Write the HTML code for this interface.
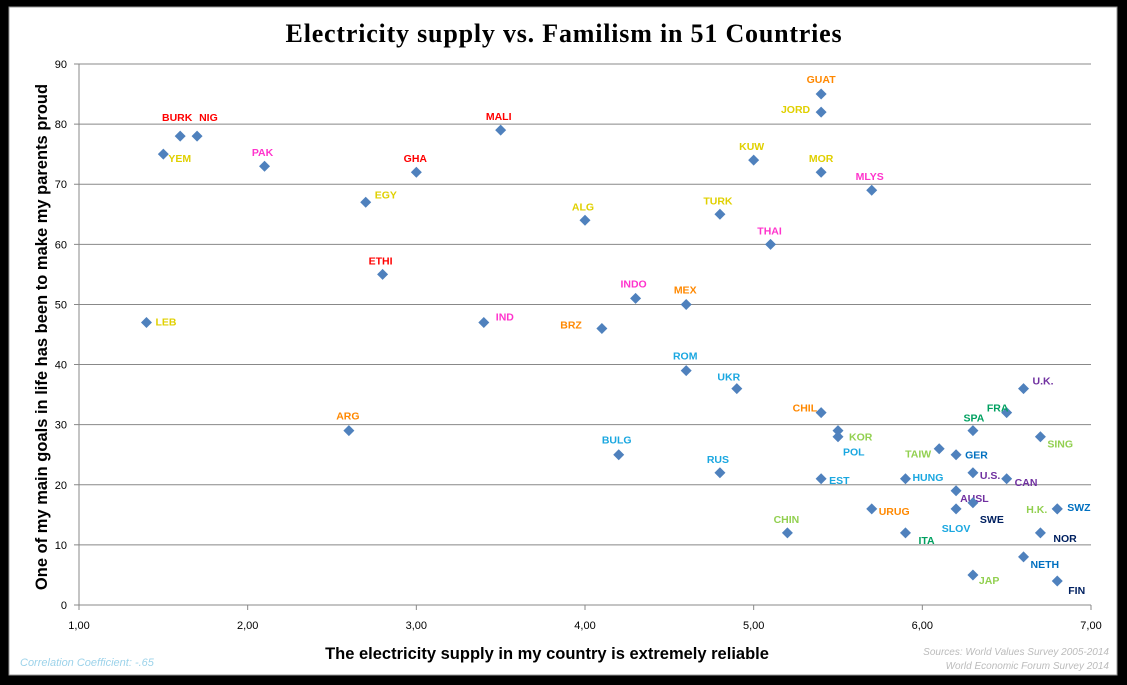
<!DOCTYPE html>
<html><head><meta charset="utf-8"><style>
body{margin:0;background:#000;width:1127px;height:685px;overflow:hidden}
svg{display:block}
text{font-family:"Liberation Sans",sans-serif}
.lbl{font-size:10.5px;font-weight:bold}
</style></head><body>
<svg id="chart" width="1127" height="685">
<rect x="9" y="7" width="1108" height="668" fill="#fff" stroke="#999" stroke-width="1"/>
<text x="564" y="42" text-anchor="middle" style="font-family:'Liberation Serif',serif;font-size:26px;font-weight:bold;letter-spacing:0.8px">Electricity supply vs. Familism in 51 Countries</text>
<g id="grid"></g><g id="axes"></g><g id="marks"></g>
<text x="547" y="659" text-anchor="middle" style="font-size:16.5px;font-weight:bold">The electricity supply in my country is extremely reliable</text>
<text transform="translate(47,337) rotate(-90)" text-anchor="middle" style="font-size:16.5px;font-weight:bold">One of my main goals in life has been to make my parents proud</text>
<text x="20" y="666" style="font-size:11px;font-style:italic;fill:#9dd3ea">Correlation Coefficient: -.65</text>
<text x="1109" y="655" text-anchor="end" style="font-size:10px;font-style:italic;fill:#bbb">Sources: World Values Survey 2005-2014</text>
<text x="1109" y="669" text-anchor="end" style="font-size:10px;font-style:italic;fill:#bbb">World Economic Forum Survey 2014</text>
</svg>
<script>
const countries=["BURK","NIG","YEM","PAK","GHA","MALI","EGY","ETHI","LEB","IND","ALG","INDO","BRZ","MEX","GUAT","JORD","KUW","MOR","MLYS","TURK","THAI","ROM","UKR","ARG","BULG","RUS","CHIL","KOR","POL","EST","CHIN","URUG","HUNG","ITA","TAIW","GER","SPA","FRA","U.K.","SING","U.S.","CAN","AUSL","SLOV","SWE","H.K.","SWZ","NOR","NETH","JAP","FIN"];
const electricity=[1.6,1.7,1.5,2.1,3.0,3.5,2.7,2.8,1.4,3.4,4.0,4.3,4.1,4.6,5.4,5.4,5.0,5.4,5.7,4.8,5.1,4.6,4.9,2.6,4.2,4.8,5.4,5.5,5.5,5.4,5.2,5.7,5.9,5.9,6.1,6.2,6.3,6.5,6.6,6.7,6.3,6.5,6.2,6.2,6.3,6.8,6.8,6.7,6.6,6.3,6.8];
const familism=[78,78,75,73,72,79,67,55,47,47,64,51,46,50,85,82,74,72,69,65,60,39,36,29,25,22,32,29,28,21,12,16,21,12,26,25,29,32,36,28,22,21,19,16,17,16,16,12,8,5,4];
const xTicks=["1,00","2,00","3,00","4,00","5,00","6,00","7,00"];
const yTicks=[0,10,20,30,40,50,60,70,80,90];
// label layout: [dx, dy, anchor, color]
const labelLayout=[[-3,-19,"middle","#f00"],[2,-19,"start","#f00"],[5,4,"start","#e0d000"],[-2,-14,"middle","#f3c"],[-1,-14,"middle","#f00"],[-2,-14,"middle","#f00"],[9,-8,"start","#e0d000"],[-2,-14,"middle","#f00"],[9,-1,"start","#e0d000"],[12,-6,"start","#f3c"],[-2,-14,"middle","#e0d000"],[-2,-15,"middle","#f3c"],[-20,-4,"end","#f80"],[-1,-15,"middle","#f80"],[0,-15,"middle","#f80"],[-11,-3,"end","#e0d000"],[-2,-14,"middle","#e0d000"],[0,-14,"middle","#e0d000"],[-2,-14,"middle","#f3c"],[-2,-14,"middle","#e0d000"],[-1,-14,"middle","#f3c"],[-1,-15,"middle","#1aa7e0"],[-8,-12,"middle","#1aa7e0"],[-1,-15,"middle","#f80"],[-2,-15,"middle","#1aa7e0"],[-2,-14,"middle","#1aa7e0"],[-4,-5,"end","#f80"],[11,6,"start","#92d050"],[5,15,"start","#1aa7e0"],[8,1,"start","#1aa7e0"],[-1,-14,"middle","#92d050"],[7,2,"start","#f80"],[7,-2,"start","#1aa7e0"],[13,7,"start","#00a060"],[-8,5,"end","#92d050"],[9,0,"start","#0070c0"],[1,-13,"middle","#00a060"],[-9,-5,"middle","#00a060"],[9,-8,"start","#7030a0"],[7,7,"start","#92d050"],[7,2,"start","#7030a0"],[8,3,"start","#7030a0"],[4,7,"start","#7030a0"],[0,19,"middle","#1aa7e0"],[7,16,"start","#002060"],[-10,0,"end","#92d050"],[10,-2,"start","#0070c0"],[13,5,"start","#002060"],[7,7,"start","#0070c0"],[6,5,"start","#92d050"],[11,9,"start","#002060"]];
const NS="http://www.w3.org/2000/svg";
const X0=79,X1=1091,Y0=605,Y1=64;
function sx(v){return X0+(v-1)/6*(X1-X0);}
function sy(v){return Y0-v/90*(Y0-Y1);}
function mk(tag,attrs,parent,txt){const e=document.createElementNS(NS,tag);for(const k in attrs)e.setAttribute(k,attrs[k]);if(txt!==undefined)e.textContent=txt;parent.appendChild(e);return e;}
const grid=document.getElementById('grid'),axes=document.getElementById('axes'),marks=document.getElementById('marks');
yTicks.forEach(t=>{
  const y=sy(t);
  const l=mk('line',{x1:X0-5,x2:X1,y1:y,y2:y,stroke:'#888','stroke-width':1},grid);
  
  
  const tx=mk('text',{x:X0-12,y:y+4,'text-anchor':'end','font-size':11},axes,String(t));
  
  
});
const ya=mk('line',{x1:X0,x2:X0,y1:Y1,y2:Y0,stroke:'#888'},axes);


xTicks.forEach((t,i)=>{
  const x=sx(1+i);
  const l=mk('line',{x1:x,x2:x,y1:Y0,y2:Y0+5,stroke:'#888'},axes);
  
  
  const tx=mk('text',{x:x,y:Y0+24,'text-anchor':'middle','font-size':11},axes,t);
  
  
});
countries.forEach((c,i)=>{
  const x=sx(electricity[i]),y=sy(familism[i]);
  const p=mk('path',{d:`M${x} ${y-5.5}L${x+5.5} ${y}L${x} ${y+5.5}L${x-5.5} ${y}Z`,fill:'#4f81bd'},marks);
  
  
  const L=labelLayout[i];
  const t=mk('text',{x:x+L[0],y:y+L[1]+4,'text-anchor':L[2],fill:L[3],class:'lbl'},marks,c);
  
  
});
</script>
</body></html>
